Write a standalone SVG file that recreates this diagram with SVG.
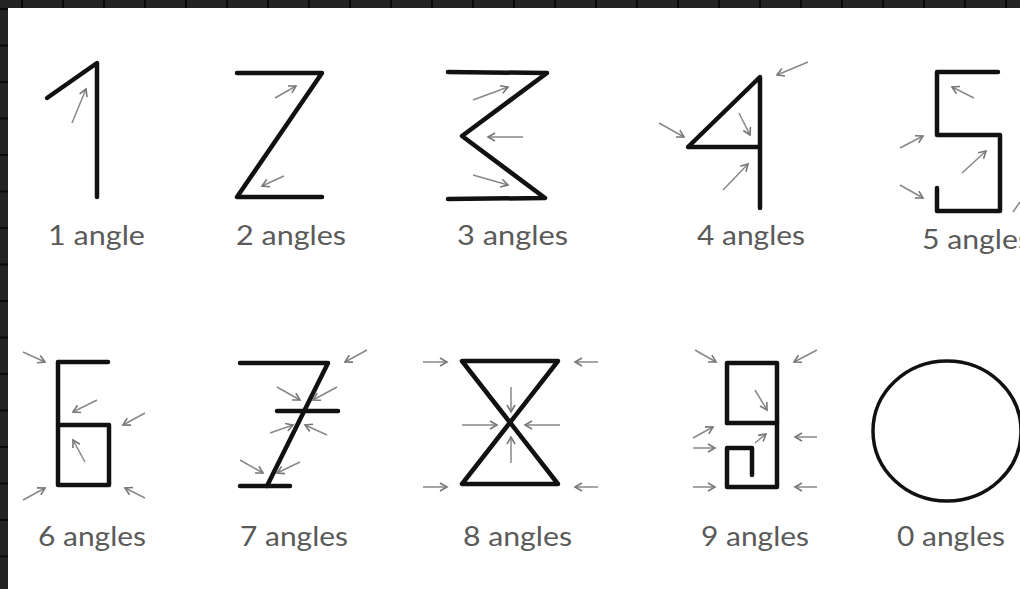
<svg xmlns="http://www.w3.org/2000/svg" width="1020" height="589" viewBox="0 0 1020 589">
<defs>
<marker id="ah" markerUnits="userSpaceOnUse" markerWidth="12" markerHeight="12" refX="8" refY="5" orient="auto">
<path d="M1,1 L8,5 L1,9" fill="none" stroke="#777" stroke-width="1.6"/>
</marker>
<pattern id="gx" x="21" y="0" width="41" height="8" patternUnits="userSpaceOnUse">
<rect x="0" y="0" width="2" height="8" fill="#0a0a0a"/>
</pattern>
<pattern id="gy" x="0" y="8" width="8" height="36.5" patternUnits="userSpaceOnUse">
<rect x="0" y="0" width="8" height="2" fill="#0a0a0a"/>
</pattern>
</defs>
<style>
.d{fill:none;stroke:#111;stroke-width:4.5;stroke-linecap:round;stroke-linejoin:round}
.a{fill:none;stroke:#888;stroke-width:1.5;marker-end:url(#ah)}
.t{font-family:Lato,"Open Sans","Liberation Sans",sans-serif;font-size:27px;fill:#5a5a5a}
</style>
<rect x="0" y="0" width="1020" height="589" fill="#242424"/>
<rect x="0" y="0" width="1020" height="8" fill="url(#gx)"/>
<rect x="0" y="8" width="8" height="581" fill="url(#gy)"/>
<rect x="8" y="8" width="1012" height="581" fill="#ffffff"/>

<g id="n1">
<polyline class="d" points="47,98 97,63 97,197"/>
<line class="a" x1="72" y1="123" x2="86" y2="89"/>
<text class="t" x="48" y="245" textLength="97" lengthAdjust="spacingAndGlyphs">1 angle</text>
</g>

<g id="n2">
<polyline class="d" points="237,73 322,73 237,197 322,197"/>
<line class="a" x1="275" y1="98" x2="296" y2="86"/>
<line class="a" x1="284" y1="176" x2="262" y2="186"/>
<text class="t" x="236" y="245" textLength="110" lengthAdjust="spacingAndGlyphs">2 angles</text>
</g>

<g id="n3">
<polyline class="d" points="448,72 547,73 462,136 545,198 448,199"/>
<line class="a" x1="473" y1="100" x2="508" y2="87"/>
<line class="a" x1="523" y1="137" x2="488" y2="137"/>
<line class="a" x1="473" y1="175" x2="508" y2="185"/>
<text class="t" x="457" y="245" textLength="111" lengthAdjust="spacingAndGlyphs">3 angles</text>
</g>

<g id="n4">
<polyline class="d" points="760,208 760,77 688,147 760,147"/>
<line class="a" x1="808" y1="62" x2="777" y2="75"/>
<line class="a" x1="739" y1="113" x2="750" y2="135"/>
<line class="a" x1="723" y1="190" x2="748" y2="164"/>
<line class="a" x1="659" y1="123" x2="684" y2="137"/>
<text class="t" x="697" y="245" textLength="108" lengthAdjust="spacingAndGlyphs">4 angles</text>
</g>

<g id="n5">
<polyline class="d" points="998,72 937,72 937,135 1000,135 1000,211 937,211 937,188"/>
<line class="a" x1="974" y1="98" x2="952" y2="87"/>
<line class="a" x1="900" y1="148" x2="923" y2="136"/>
<line class="a" x1="900" y1="185" x2="923" y2="198"/>
<line class="a" x1="962" y1="173" x2="986" y2="151"/>
<line x1="1013" y1="212" x2="1020" y2="202" stroke="#888" stroke-width="1.5"/>
<text class="t" x="922" y="249" textLength="109" lengthAdjust="spacingAndGlyphs">5 angles</text>
</g>

<g id="n6">
<polyline class="d" points="108,362 58,362 58,485 109,485 109,425 58,425"/>
<line class="a" x1="23" y1="352" x2="45" y2="362"/>
<line class="a" x1="97" y1="400" x2="73" y2="412"/>
<line class="a" x1="145" y1="413" x2="123" y2="425"/>
<line class="a" x1="85" y1="462" x2="73" y2="440"/>
<line class="a" x1="23" y1="500" x2="45" y2="488"/>
<line class="a" x1="145" y1="498" x2="125" y2="488"/>
<text class="t" x="38" y="546" textLength="108" lengthAdjust="spacingAndGlyphs">6 angles</text>
</g>

<g id="n7">
<polyline class="d" points="240,363 328,363 267,486"/>
<line class="d" x1="277" y1="411" x2="338" y2="411"/>
<line class="d" x1="240" y1="486" x2="290" y2="486"/>
<line class="a" x1="367" y1="350" x2="345" y2="362"/>
<line class="a" x1="277" y1="387" x2="300" y2="400"/>
<line class="a" x1="337" y1="387" x2="313" y2="400"/>
<line class="a" x1="270" y1="433" x2="293" y2="425"/>
<line class="a" x1="327" y1="435" x2="305" y2="425"/>
<line class="a" x1="240" y1="460" x2="263" y2="473"/>
<line class="a" x1="300" y1="462" x2="277" y2="473"/>
<text class="t" x="240" y="546" textLength="108" lengthAdjust="spacingAndGlyphs">7 angles</text>
</g>

<g id="n8">
<polygon class="d" points="462,361 558,361 462,484 558,484"/>
<line class="a" x1="423" y1="362" x2="447" y2="362"/>
<line class="a" x1="598" y1="362" x2="575" y2="362"/>
<line class="a" x1="423" y1="487" x2="447" y2="487"/>
<line class="a" x1="598" y1="487" x2="575" y2="487"/>
<line class="a" x1="462" y1="425" x2="497" y2="425"/>
<line class="a" x1="560" y1="425" x2="525" y2="425"/>
<line class="a" x1="511" y1="387" x2="511" y2="412"/>
<line class="a" x1="511" y1="463" x2="511" y2="437"/>
<text class="t" x="463" y="546" textLength="109" lengthAdjust="spacingAndGlyphs">8 angles</text>
</g>

<g id="n9">
<polyline class="d" points="727,423 727,363 777,363 777,487 727,487 727,448 752,448 752,475"/>
<line class="d" x1="727" y1="423" x2="777" y2="423"/>
<line class="a" x1="695" y1="350" x2="716" y2="362"/>
<line class="a" x1="817" y1="350" x2="794" y2="362"/>
<line class="a" x1="755" y1="390" x2="767" y2="410"/>
<line class="a" x1="693" y1="438" x2="713" y2="427"/>
<line class="a" x1="693" y1="448" x2="715" y2="448"/>
<line class="a" x1="755" y1="443" x2="766" y2="434"/>
<line class="a" x1="817" y1="437" x2="795" y2="437"/>
<line class="a" x1="693" y1="487" x2="715" y2="487"/>
<line class="a" x1="817" y1="487" x2="795" y2="487"/>
<text class="t" x="701" y="546" textLength="108" lengthAdjust="spacingAndGlyphs">9 angles</text>
</g>

<g id="n0">
<ellipse cx="947" cy="431" rx="74" ry="70" fill="none" stroke="#111" stroke-width="3.5"/>
<text class="t" x="897" y="546" textLength="108" lengthAdjust="spacingAndGlyphs">0 angles</text>
</g>
</svg>
